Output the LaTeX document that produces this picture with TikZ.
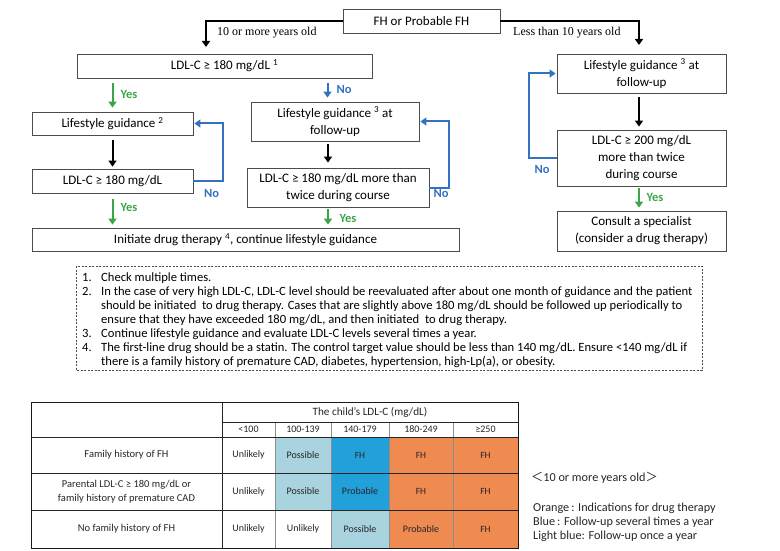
\documentclass[tikz,border=0pt]{standalone}
\usepackage{fontspec}
\setmainfont{Carlito}
\newfontfamily\serifl{Liberation Serif}
\newfontfamily\cjkf{Noto Sans CJK SC}
\usetikzlibrary{arrows.meta,calc}
\definecolor{grn}{HTML}{3BA54A}
\definecolor{blu}{HTML}{3371C2}
\definecolor{lblue}{HTML}{A8D3DF}
\definecolor{mblue}{HTML}{22A0DA}
\definecolor{orng}{HTML}{EF8A50}
\newcommand{\fsz}[2]{\fontsize{#1}{#2}\selectfont}
\begin{document}
\begin{tikzpicture}[x=1pt,y=-1pt,
  box/.style={draw=black!70,line width=0.8pt,align=center,inner sep=0pt,font=\fsz{13}{17}},
  blk/.style={line width=2pt,-{Triangle[length=6pt,width=8pt]}},
  grnarrow/.style={line width=2pt,draw=grn,-{Triangle[length=6pt,width=8pt]}},
  bluarrow/.style={line width=2pt,draw=blu,-{Triangle[length=6pt,width=8pt]}},
  yeslbl/.style={font=\fsz{12.5}{14}\bfseries,text=grn,inner sep=0pt},
  nolbl/.style={font=\fsz{12.5}{14}\bfseries,text=blu,inner sep=0pt},
  agelbl/.style={font=\serifl\fsz{12}{14},anchor=west,inner sep=0pt},
  fnnum/.style={font=\fsz{12.6}{14},anchor=east,inner sep=0pt,text height=8.5pt,text depth=2.5pt},
  fntxt/.style={font=\fsz{12.6}{14},anchor=west,inner sep=0pt,text height=8.5pt,text depth=2.5pt},
  cell/.style={font=\fsz{10}{12},text=black!85,inner sep=0pt,align=center},
  ccell/.style={font=\fsz{9.5}{12},text=black!85,inner sep=0pt,align=center},
  rowlbl/.style={font=\fsz{10.5}{13.5},text=black!85,inner sep=0pt,align=center},
  leg/.style={font=\fsz{12.2}{14},anchor=west,inner sep=0pt,text=black!85}
]
\useasboundingbox (0,0) rectangle (780,551);

% ---------- flowchart boxes ----------
\node[box,minimum width=157pt,minimum height=24pt] (fh) at (421.5,21) {FH or Probable FH};
\node[box,minimum width=295pt,minimum height=24pt] (ldl1) at (224.5,66) {LDL-C ≥ 180 mg/dL \textsuperscript{1}};
\node[box,minimum width=161pt,minimum height=23pt] (lg2) at (112.5,123.5) {Lifestyle guidance \textsuperscript{2}};
\node[box,minimum width=161pt,minimum height=24pt] (ldl2) at (112.5,181) {LDL-C ≥ 180 mg/dL};
\node[box,minimum width=427pt,minimum height=23pt] (init) at (245.5,239.5) {Initiate drug therapy \textsuperscript{4}, continue lifestyle guidance};
\node[box,minimum width=168pt,minimum height=39pt] (lg3a) at (335,121.5) {Lifestyle guidance \textsuperscript{3} at\\follow-up};
\node[box,minimum width=182pt,minimum height=39pt] (ldl3) at (338,187.5) {LDL-C ≥ 180 mg/dL more than\\twice during course};
\node[box,minimum width=169pt,minimum height=39pt] (lg3b) at (641.5,73.5) {Lifestyle guidance \textsuperscript{3} at\\follow-up};
\node[box,minimum width=169pt,minimum height=56pt] (ldl4) at (641.5,158) {LDL-C ≥ 200 mg/dL\\more than twice\\during course};
\node[box,minimum width=169pt,minimum height=40pt] (cons) at (641.5,231) {Consult a specialist\\(consider a drug therapy)};

% ---------- helper coordinates ----------
\coordinate (a1) at (206,47);
\coordinate (a2) at (639,45);
\coordinate (xno) at (327.5,0);
\coordinate (xmid) at (328,0);
\coordinate (loopL) at (223,0);
\coordinate (loopM) at (449,0);
\coordinate (loopR) at (529,0);

% ---------- connectors ----------
\draw[blk] (fh.west) -| (a1);
\draw[blk] (fh.east) -| (a2);
\node[agelbl] (age1) at (217,33) {10 or more years old};
\node[agelbl] (age2) at (513,33) {Less than 10 years old};

\draw[grnarrow,shorten <=5pt,shorten >=4pt] (lg2.north |- ldl1.south) -- (lg2.north);
\node[yeslbl] (y1) at (129,94) {Yes};
\draw[bluarrow,shorten <=5pt,shorten >=4pt] (ldl1.south -| xno) -- (lg3a.north -| xno);
\node[nolbl] (n1) at (344,89) {No};

\draw[blk,shorten <=5pt,shorten >=2pt] (lg2.south) -- (ldl2.north);
\draw[bluarrow,shorten >=1pt] (ldl2.east) -- (ldl2.east -| loopL) |- (lg2.east);
\node[nolbl] (n2) at (211.5,193) {No};
\draw[grnarrow,shorten <=6pt,shorten >=3pt] (ldl2.south) -- (init.north -| ldl2.south);
\node[yeslbl] (y2) at (129,207) {Yes};

\draw[blk,shorten <=3pt,shorten >=5pt] (lg3a.south -| xmid) -- (ldl3.north -| xmid);
\draw[bluarrow,shorten >=1pt] (ldl3.east) -- (ldl3.east -| loopM) |- (lg3a.east);
\node[nolbl] (n3) at (441,193) {No};
\draw[grnarrow,shorten <=2pt,shorten >=3pt] (ldl3.south -| xmid) -- (init.north -| xmid);
\node[yeslbl] (y3) at (348,218) {Yes};

\draw[blk,shorten <=4pt,shorten >=3pt] (lg3b.south -| a2) -- (ldl4.north -| a2);
\draw[bluarrow,shorten >=1pt] (ldl4.west) -- (ldl4.west -| loopR) |- (lg3b.west);
\node[nolbl] (n4) at (542,169) {No};
\draw[grnarrow,shorten <=2pt,shorten >=3pt] (ldl4.south -| a2) -- (cons.north -| a2);
\node[yeslbl] (y4) at (655,197) {Yes};

% ---------- footnotes ----------
\draw[black!70,line width=0.6pt,dash pattern=on 2pt off 1.5pt] (76,266) rectangle (702,370);
\node[fnnum] (f1n) at (92,278) {1.};
\node[fntxt] (f1) at (101,278) {Check multiple times.};
\node[fnnum] (f2n) at (92,292) {2.};
\node[fntxt] (f2a) at (101,292) {In the case of very high LDL-C, LDL-C level should be reevaluated after about one month of guidance and the patient};
\node[fntxt] (f2b) at (101,306) {should be initiated\ \ to drug therapy. Cases that are slightly above 180 mg/dL should be followed up periodically to};
\node[fntxt] (f2c) at (101,320) {ensure that they have exceeded 180 mg/dL, and then initiated\ \ to drug therapy.};
\node[fnnum] (f3n) at (92,334) {3.};
\node[fntxt] (f3) at (101,334) {Continue lifestyle guidance and evaluate LDL-C levels several times a year.};
\node[fnnum] (f4n) at (92,348) {4.};
\node[fntxt] (f4a) at (101,348) {The first-line drug should be a statin. The control target value should be less than 140 mg/dL. Ensure <140 mg/dL if};
\node[fntxt] (f4b) at (101,362) {there is a family history of premature CAD, diabetes, hypertension, high-Lp(a), or obesity.};

% ---------- table ----------
\fill[lblue] (275,437) rectangle (331,510);
\fill[mblue] (331,437) rectangle (389,510);
\fill[orng] (389,437) rectangle (518,548);
\fill[lblue] (331,510) rectangle (389,548);
\draw[black!45,line width=0.8pt] (275,422) -- (275,548) (331,422) -- (331,548) (389,422) -- (389,548) (453,422) -- (453,548);
\draw[black!85,line width=0.8pt] (222,422) -- (518,422) (31,437) -- (518,437) (31,473) -- (518,473) (31,510) -- (518,510) (222,402) -- (222,548);
\draw[black!90,line width=1pt] (31,402) rectangle (518,548);

\node[font=\fsz{11.2}{13},text=black!85,inner sep=0pt] (th) at (370,412) {The child's LDL-C (mg/dL)};
\node[cell] (h1) at (248.5,429.5) {<100};
\node[cell] (h2) at (303,429.5) {100-139};
\node[cell] (h3) at (360,429.5) {140-179};
\node[cell] (h4) at (421,429.5) {180-249};
\node[cell] (h5) at (485.5,429.5) {≥250};

\node[rowlbl] (r1) at (126.5,455) {Family history of FH};
\node[rowlbl] (r2) at (126.5,491.5) {Parental LDL-C ≥ 180 mg/dL or\\family history of premature CAD};
\node[rowlbl] (r3) at (126.5,529) {No family history of FH};

\node[cell] (c11) at (248.5,455) {Unlikely};
\node[cell] (c12) at (303,455) {Possible};
\node[ccell] (c13) at (360,455) {FH};
\node[ccell] (c14) at (421,455) {FH};
\node[ccell] (c15) at (485.5,455) {FH};
\node[cell] (c21) at (248.5,491.5) {Unlikely};
\node[cell] (c22) at (303,491.5) {Possible};
\node[cell] (c23) at (360,491.5) {Probable};
\node[ccell] (c24) at (421,491.5) {FH};
\node[ccell] (c25) at (485.5,491.5) {FH};
\node[cell] (c31) at (248.5,529) {Unlikely};
\node[cell] (c32) at (303,529) {Unlikely};
\node[cell] (c33) at (360,529) {Possible};
\node[cell] (c34) at (421,529) {Probable};
\node[ccell] (c35) at (485.5,529) {FH};

% ---------- legend ----------
\node[leg] (lg0) at (531,478) {{\cjkf ＜}10 or more years old{\cjkf ＞}};
\node[leg] (lg1) at (533,508) {Orange\,: Indications for drug therapy};
\node[leg] (lg2l) at (533,522) {Blue\,: Follow-up several times a year};
\node[leg] (lg3l) at (533,536) {Light blue: Follow-up once a year};
\end{tikzpicture}
\end{document}
